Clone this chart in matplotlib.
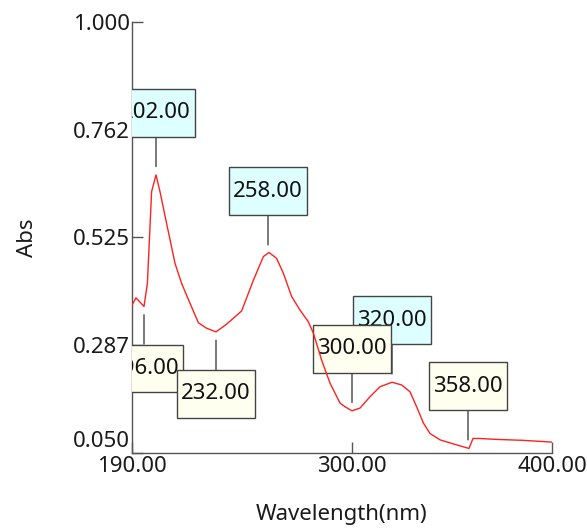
import numpy as np
import matplotlib.pyplot as plt
import matplotlib.transforms as mtransforms
from matplotlib.path import Path

plt.rcParams['font.family'] = ['Noto Sans', 'DejaVu Sans']

# spectrum
wavelength = [190, 192, 196, 197.7, 199.8, 202, 204, 207.3, 211.5, 214.8, 219, 223.2,
              227.3, 232, 237.3, 244.8, 250.7, 255.7, 258.5, 262.3, 265.7, 269.8,
              274, 278.2, 280.7, 284.8, 289, 294, 296.5, 300, 304, 309, 314, 320,
              324.8, 329, 332.3, 335.7, 339, 344, 350.7, 358.5, 360.5, 364, 372, 385, 400]
absorbance = [0.376, 0.392, 0.373, 0.424, 0.626, 0.663, 0.626, 0.556, 0.468, 0.424,
              0.380, 0.337, 0.325, 0.317, 0.334, 0.363, 0.431, 0.483, 0.492,
              0.479, 0.446, 0.395, 0.365, 0.339, 0.314, 0.255, 0.204, 0.160, 0.152,
              0.143, 0.149, 0.174, 0.196, 0.206, 0.200, 0.185, 0.152, 0.116, 0.093,
              0.079, 0.070, 0.060, 0.082, 0.082, 0.080, 0.078, 0.074]

peaks = [202, 258, 320]
valleys = [196, 232, 300, 358]
valley_below = [True, True, False, False]

yticks = [0.050, 0.287, 0.525, 0.762, 1.000]
xticks = [190, 300, 400]

fig = plt.figure(figsize=(5.87, 5.28), dpi=100)
ax = fig.add_axes([132 / 587, 1 - 453 / 528, 420 / 587, 431 / 528])

ax.plot(wavelength, absorbance, color='#ff2020', lw=1.0, zorder=5)
ax.set_xlim(190, 400)
ax.set_ylim(0.05, 1.0)

ax.set_xticks(xticks)
ax.set_xticklabels(['%.2f' % v for v in xticks])
ax.set_yticks(yticks)
ax.set_yticklabels(['%.3f' % v for v in yticks])
ax.tick_params(direction='in', length=8, width=1, color='#555555',
               labelsize=16, labelcolor='#1a1a1a')
ax.tick_params(axis='y', pad=1.5)
ax.tick_params(axis='x', pad=2.5)

# the bottom y label sits a bit higher than its tick
lbl = ax.get_yticklabels()[0]
lbl.set_transform(lbl.get_transform() + mtransforms.ScaledTranslation(0, 14 / 100, fig.dpi_scale_trans))

for s in ['top', 'right']:
    ax.spines[s].set_visible(False)
for s in ['left', 'bottom']:
    ax.spines[s].set_color('#555555')
    ax.spines[s].set_linewidth(1)

ax.set_xlabel('Wavelength(nm)', fontsize=16, color='#1a1a1a', labelpad=19)
ax.set_ylabel('Abs', fontsize=16, color='#1a1a1a', labelpad=25)


# label box: narrow side padding, tall top/bottom padding
def tall_box(x0, y0, width, height, mutation_size):
    px, py = 0.17 * mutation_size, 0.6 * mutation_size
    x0, y0 = x0 - px, y0 - py
    x1, y1 = x0 + width + 2 * px, y0 + height + 2 * py
    return Path([(x0, y0), (x1, y0), (x1, y1), (x0, y1), (x0, y0)], closed=True)


def mark(x, up, face):
    y = np.interp(x, wavelength, absorbance)
    ax.annotate('%.2f' % x, xy=(x, y), xytext=(0, 62 if up else -62),
                textcoords='offset pixels', ha='center', va='center',
                fontsize=16, color='#111111', annotation_clip=False,
                bbox=dict(boxstyle=tall_box, fc=face, ec='#444444', lw=1),
                arrowprops=dict(arrowstyle='-', color='#444444', lw=1,
                                shrinkA=0, shrinkB=6),
                clip_on=True, zorder=3)


for p in peaks:
    mark(p, True, '#ddffff')
for v, below in zip(valleys, valley_below):
    mark(v, not below, '#fffff0')

fig.savefig('out.png', dpi=100)
